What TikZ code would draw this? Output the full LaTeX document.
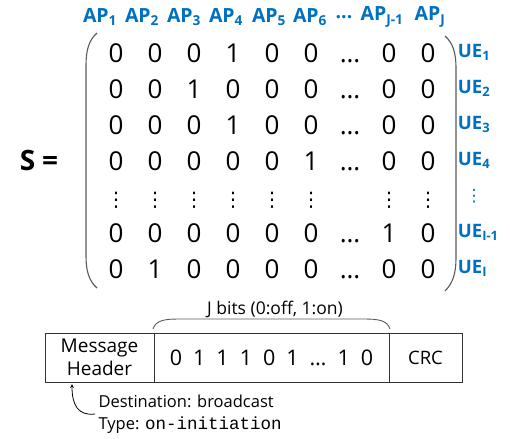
\documentclass[tikz,border=0pt]{standalone}
\usepackage{fontspec}
\setmainfont{Open Sans}
\setmonofont{Liberation Mono}
\newfontfamily\dotsfont{DejaVu Sans}
\usepackage{tikz}
\usetikzlibrary{arrows,matrix}
\usetikzlibrary{positioning}
\definecolor{apblue}{RGB}{0,112,192}
\definecolor{parengray}{RGB}{90,90,90}
\newcommand{\widebits}{\spaceskip=11pt\relax}
\tikzstyle{aplabel} = [font=\fontsize{19.5}{19.5}\selectfont\bfseries, text=apblue, inner sep=0]
\tikzstyle{uelabel} = [font=\fontsize{18.5}{18.5}\selectfont\bfseries, text=apblue, inner sep=0]
\tikzstyle{entry} = [font=\fontsize{26}{26}\selectfont, text height=19pt, text depth=0pt, minimum width=39pt, inner sep=0]
\tikzstyle{vdot} = [font=\fontsize{20}{20}\selectfont\dotsfont]
\tikzstyle{field} = [draw=black!80, line width=0.9pt, minimum height=49pt, inner sep=0, outer sep=0, align=center]
\tikzstyle{paren} = [parengray, line width=1.1pt]
\tikzstyle{arrow} = [thick,->,>=stealth]

\begin{document}
\begin{tikzpicture}[x=1pt, y=-1pt]
                                \useasboundingbox (0,0) rectangle (510,438);
                                \node (ap1) [aplabel] at (100,17) {AP\textsubscript{1}};
                                \node (ap2) [aplabel] at (142,17) {AP\textsubscript{2}};
                                \node (ap3) [aplabel] at (184,17) {AP\textsubscript{3}};
                                \node (ap4) [aplabel] at (226,17) {AP\textsubscript{4}};
                                \node (ap5) [aplabel] at (269,17) {AP\textsubscript{5}};
                                \node (ap6) [aplabel] at (310,17) {AP\textsubscript{6}};
                                \node (apdots) [aplabel] at (344,17) {...};
                                \node (apj1) [aplabel] at (382,17) {AP\textsubscript{J-1}};
                                \node (apj) [aplabel] at (430,17) {AP\textsubscript{J}};
                                \node (slabel) [font=\fontsize{28}{28}\selectfont\bfseries] at (39,160) {S\hspace{7pt}=};
                                \matrix (S) [matrix of nodes, nodes={entry}, column sep=0pt, row sep=17pt] at (272,160.5) {
                                0 & 0 & 0 & 1 & 0 & 0 & \dots & 0 & 0 \\
                                0 & 0 & 1 & 0 & 0 & 0 & \dots & 0 & 0 \\
                                0 & 0 & 0 & 1 & 0 & 0 & \dots & 0 & 0 \\
                                0 & 0 & 0 & 0 & 0 & 1 & \dots & 0 & 0 \\
                                |[vdot]| ⋮ & |[vdot]| ⋮ & |[vdot]| ⋮ & |[vdot]| ⋮ & |[vdot]| ⋮ & |[vdot]| ⋮ & & |[vdot]| ⋮ & |[vdot]| ⋮ \\
                                0 & 0 & 0 & 0 & 0 & 0 & \dots & 1 & 0 \\
                                0 & 1 & 0 & 0 & 0 & 0 & \dots & 0 & 0 \\
                                };
                                \draw [paren] (97,33) .. controls (89,40) and (86,50) .. (86,65) -- (86,256) .. controls (86,271) and (89,281) .. (97,288);
                                \draw [paren] (445,36) .. controls (453,43) and (456,53) .. (456,68) -- (456,258) .. controls (456,273) and (453,283) .. (445,291);
                                \node (ue1) [uelabel, right=10pt of S-1-9] {UE\textsubscript{1}};
                                \node (ue2) [uelabel, right=10pt of S-2-9] {UE\textsubscript{2}};
                                \node (ue3) [uelabel, right=10pt of S-3-9] {UE\textsubscript{3}};
                                \node (ue4) [uelabel, right=10pt of S-4-9] {UE\textsubscript{4}};
                                \node (uedots) [uelabel, font=\fontsize{17}{17}\selectfont\dotsfont] at (ue4 |- S-5-9) {⋮};
                                \node (uei1) [uelabel, right=10pt of S-6-9] {UE\textsubscript{I-1}};
                                \node (uei) [uelabel, right=10pt of S-7-9] {UE\textsubscript{I}};
                                \node (hdr) [field, minimum width=109pt, font=\fontsize{19}{23}\selectfont] at (99.5,357.5) {Message\\Header};
                                \node (bits) [field, minimum width=235pt, right=0pt of hdr, font={\fontsize{21.5}{21.5}\selectfont\widebits}] {0 1 1 1 0 1 \dots{} 1 0};
                                \node (crc) [field, minimum width=73pt, right=0pt of bits, font=\fontsize{18.5}{18.5}\selectfont] {CRC};
                                \draw [paren, line width=0.9pt] (153,329) .. controls (156,320) and (165,319) .. (180,319) -- (363,319) .. controls (378,319) and (387,320) .. (390,329);
                                \node (jbits) [font=\fontsize{17.5}{17.5}\selectfont] at (275,309) {J bits (0:off, 1:on)};
                                \node (note) [font=\fontsize{16.5}{22}\selectfont, align=left, anchor=west] at (95,414) {Destination: broadcast\\Type: \texttt{\fontsize{17.5}{22}\selectfont on-initiation}};
                                \coordinate (tip) at (72,384);
                                \draw [arrow] (note.west) .. controls (78,416) and (72,405) .. (tip);
                            \end{tikzpicture}
\end{document}
